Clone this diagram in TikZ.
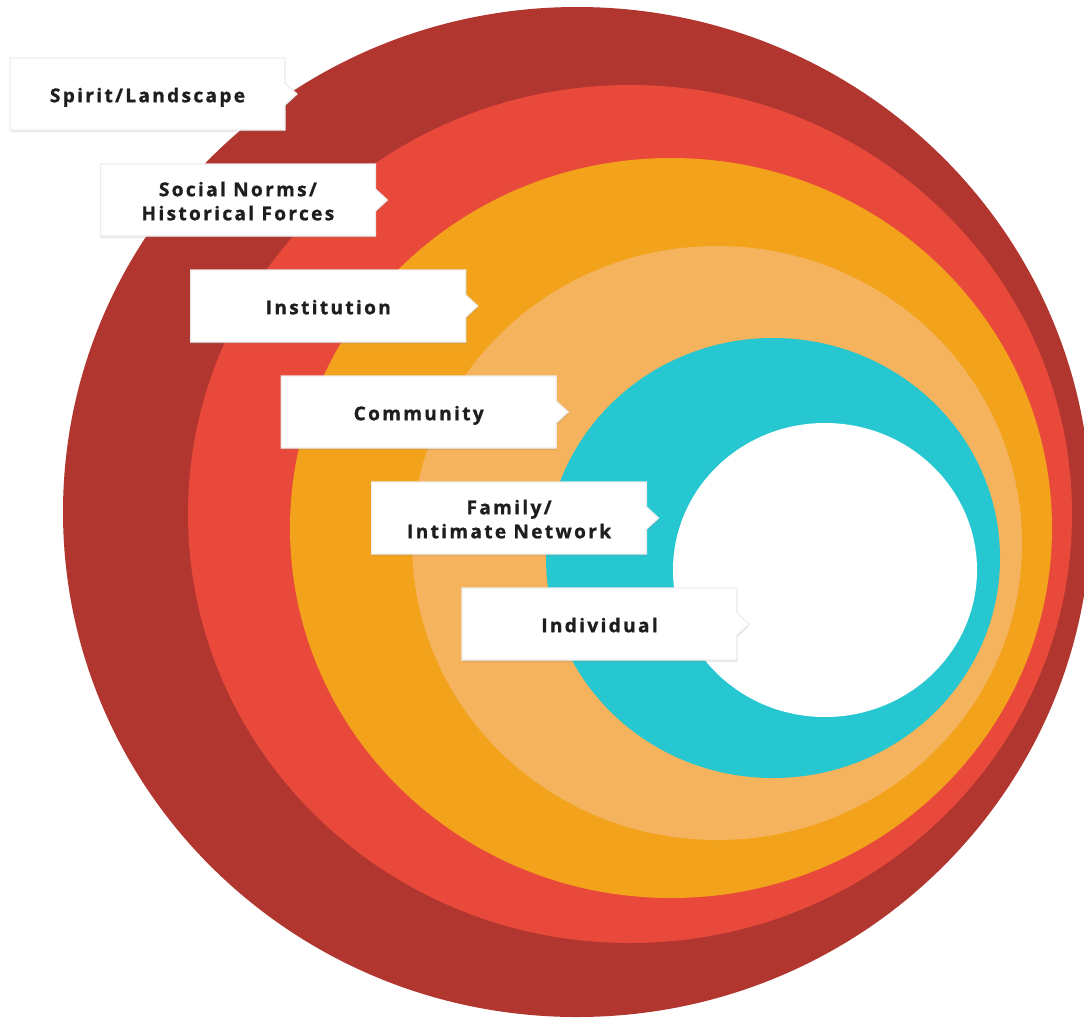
\documentclass[tikz,border=0pt]{standalone}
\usepackage{fontspec}
\newfontfamily\tagfont{Open Sans}[LetterSpace=12.5, FakeBold=1.2]
\usetikzlibrary{shadows}

\definecolor{spiritred}{HTML}{B0362F}
\definecolor{normsred}{HTML}{E9493A}
\definecolor{instorange}{HTML}{F3A21C}
\definecolor{commorange}{HTML}{F4B35C}
\definecolor{familyteal}{HTML}{26C7D0}
\definecolor{tagtext}{HTML}{1E1E1E}

\tikzset{
  tagshape/.style={fill=white, draw=black!7, line width=1.2pt,
    drop shadow={shadow xshift=0.5pt, shadow yshift=-2pt, opacity=.18}},
  tag/.style={align=center, text=tagtext, text depth=5pt,
    font=\tagfont\bfseries\fontsize{19}{24}\selectfont}
}

\begin{document}
\begin{tikzpicture}[x=1pt, y=-1pt]
      \useasboundingbox (0, 0) rectangle (1084, 1018);

      % rings, outside in
      \fill [spiritred] (577, 512) ellipse [x radius=514pt, y radius=505pt];
      \fill [normsred] (630, 514) ellipse [x radius=442pt, y radius=429pt];
      \fill [instorange] (671, 528) ellipse [x radius=381pt, y radius=370pt];
      \fill [commorange] (717, 543) ellipse [x radius=305pt, y radius=297pt];
      \fill [familyteal] (773, 558) ellipse [x radius=227pt, y radius=220pt];
      \fill [white] (825, 570) ellipse [x radius=152pt, y radius=147pt];

      % labels
      \foreach \i/\name/\txt in {0/spirit/{Spirit/Landscape},
          1/norms/{Social Norms/\\Historical Forces},
          2/institution/{Institution},
          3/community/{Community},
          4/family/{Family/\\Intimate Network},
          5/individual/{Individual}} {
        \coordinate (\name-nw) at ({10 + 90.4*\i}, {58 + 106*\i});
        \filldraw [tagshape] (\name-nw) -- ++(275, 0) -- ++(0, 25) -- ++(12, 11)
          -- ++(-12, 11) -- ++(0, 25) -- ++(-275, 0) -- cycle;
        \node [tag] (\name) at ([shift={(137.5, 39.5)}] \name-nw) {\txt};
      }
    \end{tikzpicture}
\end{document}
